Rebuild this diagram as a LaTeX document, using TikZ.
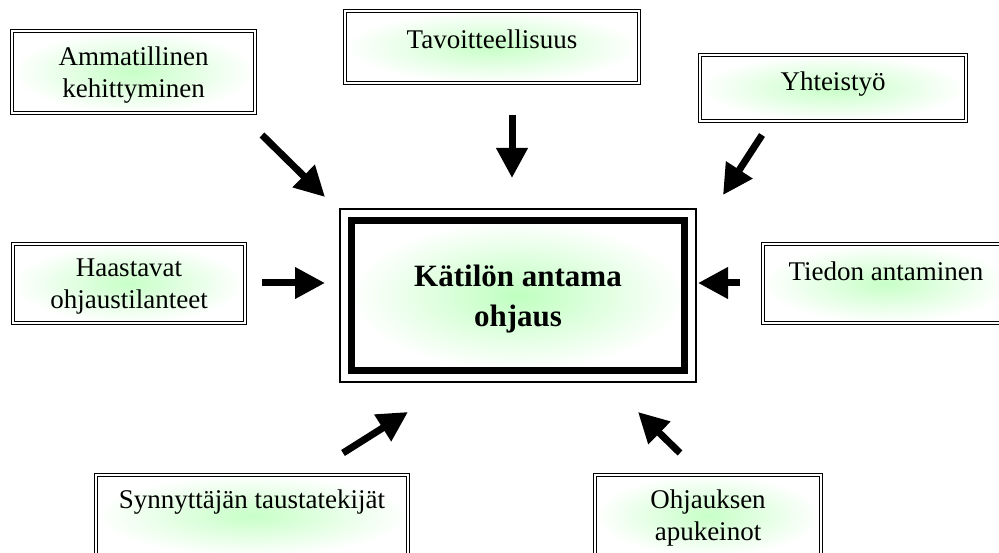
\documentclass[tikz,border=0pt]{standalone}
\usepackage{fontspec}
\setmainfont{Liberation Serif}
\usetikzlibrary{arrows.meta}

\begin{document}
\begin{tikzpicture}[x=1pt,y=-1pt]
		\tikzstyle{laatikko} = [draw,double,line width=1.2pt,double distance=1.6pt,inner color=green!22,outer color=white,align=center,font=\fontsize{27}{32}\selectfont]
		\tikzstyle{keskus} = [draw,line width=7pt,inner color=green!25,outer color=white,align=center,font=\fontsize{31}{40}\selectfont\bfseries,minimum width=333pt,minimum height=150pt,text depth=0pt]
		\tikzstyle{nuoli} = [-{Triangle[length=30pt,width=30pt]},line width=7pt]
		
		\useasboundingbox (0,0) rectangle (999,553);
		\clip (0,0) rectangle (999,553);
		\fill[white] (0,0) rectangle (999,553);
		
		\node[keskus](K) at (518,295.5) {Kätilön antama\\ohjaus};
		\draw[line width=1.2pt] ([xshift=-8pt,yshift=8pt]K.north west) rectangle ([xshift=8pt,yshift=-8pt]K.south east);
		
		\node[laatikko,minimum width=243pt,minimum height=82pt,text depth=0pt](A) at (133.5,72) {Ammatillinen\\kehittyminen};
		\node[laatikko,minimum width=294pt,minimum height=72pt,text depth=16pt](T) at (492,47) {Tavoitteellisuus};
		\node[laatikko,minimum width=266pt,minimum height=66pt,text depth=14pt](Y) at (833,88) {Yhteistyö};
		\node[laatikko,minimum width=232pt,minimum height=79pt,text depth=0pt](H) at (129,283.5) {Haastavat\\ohjaustilanteet};
		\node[laatikko,minimum width=246pt,minimum height=79pt,text depth=25pt](Ti) at (886,283.5) {Tiedon antaminen};
		\node[laatikko,minimum width=312pt,minimum height=81pt,text depth=33pt](S) at (252,515.5) {Synnyttäjän taustatekijät};
		\node[laatikko,minimum width=226pt,minimum height=81pt,text depth=0pt](O) at (708,515.5) {Ohjauksen\\apukeinot};
		
		\coordinate (A1) at (262,135);
		\coordinate (A2) at (325,197);
		\coordinate (T1) at (512,115);
		\coordinate (T2) at (512,178);
		\coordinate (Y1) at (762,135);
		\coordinate (Y2) at (723,195);
		\coordinate (H1) at (262,283);
		\coordinate (H2) at (325,283);
		\coordinate (Ti1) at (740,283);
		\coordinate (Ti2) at (698,283);
		\coordinate (S1) at (343,453);
		\coordinate (S2) at (408,412);
		\coordinate (O1) at (680,453);
		\coordinate (O2) at (638,412);
		
		\draw[nuoli] (A1) -- (A2);
		\draw[nuoli] (T1) -- (T2);
		\draw[nuoli] (Y1) -- (Y2);
		\draw[nuoli] (H1) -- (H2);
		\draw[nuoli] (Ti1) -- (Ti2);
		\draw[nuoli] (S1) -- (S2);
		\draw[nuoli] (O1) -- (O2);
		
		\end{tikzpicture}
\end{document}
